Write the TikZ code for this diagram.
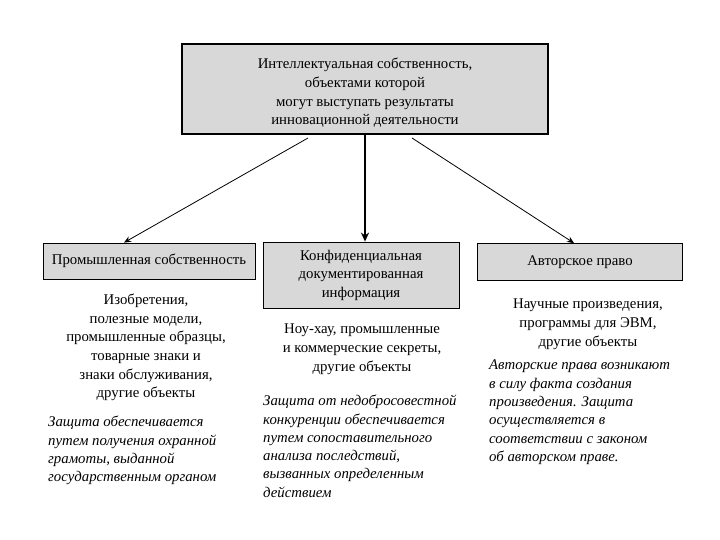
\documentclass[tikz,border=0pt]{standalone}
\usepackage{fontspec}
\setmainfont{Liberation Serif}
\usetikzlibrary{arrows.meta}
\definecolor{boxgray}{HTML}{D8D8D8}
\begin{document}
\begin{tikzpicture}[x=1pt,y=-1pt,
  box/.style={draw=black,fill=boxgray,line width=0.8pt,inner sep=0pt,align=center,
    font=\fontsize{14.8}{18.5}\selectfont},
  topbox/.style={box,line width=2.6pt},
  plain/.style={align=center,inner sep=0pt,font=\fontsize{14.8}{18.6}\selectfont},
  note/.style={align=left,inner sep=0pt,font=\fontsize{14.8}{18.3}\selectfont\itshape},
  thinarrow/.style={line width=0.8pt,-{Stealth[length=7pt,width=6pt]}},
  thickarrow/.style={line width=2.2pt,-{Stealth[length=9pt,width=8pt]}}]
\useasboundingbox (0,0) rectangle (720,540);
\node[topbox,minimum width=366,minimum height=90] (top) at (365,89) {};
\node[plain] (toptext) at (365,93)
  {Интеллектуальная собственность,\\объектами которой\\могут выступать результаты\\инновационной деятельности};
\node[box,minimum width=212,minimum height=36] (ind) at (149,261) {Промышленная собственность};
\node[box,minimum width=196,minimum height=66] (conf) at (361,275) {Конфиденциальная\\документированная\\информация};
\node[box,minimum width=205,minimum height=37] (auth) at (580,262) {Авторское право};
\coordinate (ls) at (308,138);
\coordinate (rs) at (412,138);
\draw[thinarrow] (ls) -- (ind.north -| 124,0);
\draw[thickarrow] (top.south) -- (top.south |- conf.north);
\draw[thinarrow] (rs) -- (auth.north -| 574,0);
\node[plain,anchor=north] (indobj) at (146,294)
  {Изобретения,\\полезные модели,\\промышленные образцы,\\товарные знаки и\\знаки обслуживания,\\другие объекты};
\node[note,anchor=north west] (indnote) at (48,416)
  {Защита обеспечивается\\путем получения охранной\\грамоты, выданной\\государственным органом};
\node[plain,anchor=north] (confobj) at (362,324)
  {Ноу-хау, промышленные\\и коммерческие секреты,\\другие объекты};
\node[note,anchor=north west] (confnote) at (263,395)
  {Защита от недобросовестной\\конкуренции обеспечивается\\путем сопоставительного\\анализа последствий,\\вызванных определенным\\действием};
\node[plain,anchor=north] (authobj) at (588,299)
  {Научные произведения,\\программы для ЭВМ,\\другие объекты};
\node[note,anchor=north west] (authnote) at (489,360)
  {Авторские права возникают\\в силу факта создания\\произведения. Защита\\осуществляется в\\соответствии с законом\\об авторском праве.};
\end{tikzpicture}
\end{document}
